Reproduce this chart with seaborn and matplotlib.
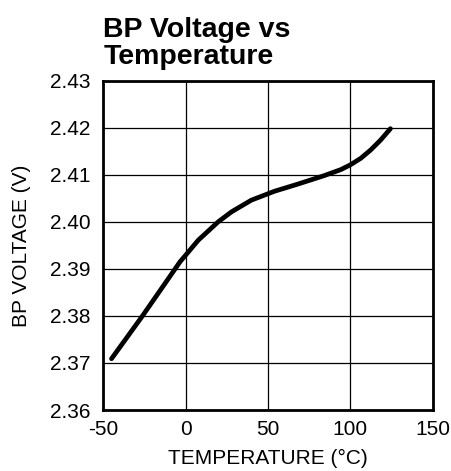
import numpy as np
import pandas as pd
import matplotlib
matplotlib.use('Agg')
import matplotlib.pyplot as plt
import seaborn as sns

# Curve
temperature = [-45, -26.6, -12.5, -3.4, 0, 7.7, 19.8, 27.8, 39.9, 54, 68, 84,
               94.3, 100, 106.4, 112.5, 118.5, 124.4]
bp_voltage = [2.3709, 2.3798, 2.3869, 2.3915, 2.3929, 2.3961, 2.4000, 2.4021,
              2.4046, 2.4065, 2.4080, 2.4098, 2.4111, 2.4121, 2.4135, 2.4153,
              2.4174, 2.4198]

x_ticks = [-50, 0, 50, 100, 150]
y_ticks = [2.36, 2.37, 2.38, 2.39, 2.40, 2.41, 2.42, 2.43]
y_tick_labels = ['2.36', '2.37', '2.38', '2.39', '2.40', '2.41', '2.42', '2.43']

df = pd.DataFrame({'temp': temperature, 'volt': bp_voltage})

sns.set_style('white')
plt.rcParams['font.family'] = ['Liberation Sans', 'DejaVu Sans']
plt.rcParams['axes.unicode_minus'] = False
plt.rcParams['text.color'] = 'black'
plt.rcParams['axes.labelcolor'] = 'black'

fig = plt.figure(figsize=(4.52, 4.71), dpi=100)
ax = fig.add_axes([0.2285, 0.1295, 0.7285, 0.6992])

sns.lineplot(data=df, x='temp', y='volt', color='black', linewidth=3.4, ax=ax)

ax.set_xlim(-50, 150)
ax.set_ylim(2.36, 2.43)
ax.set_xticks(x_ticks)
ax.set_yticks(y_ticks)
ax.set_yticklabels(y_tick_labels)
ax.tick_params(axis='y', length=0, labelsize=15, colors='black', pad=9)
ax.tick_params(axis='x', length=0, labelsize=15, colors='black', pad=7)
ax.grid(True, color='black', linewidth=0.9)

for s in ax.spines.values():
    s.set_color('black')
    s.set_linewidth(2)
    s.set_visible(True)

ax.set_xlabel('TEMPERATURE (°C)', fontsize=15, labelpad=7)
ax.set_ylabel('BP VOLTAGE (V)', fontsize=15, labelpad=14)
ax.set_title('BP Voltage vs\nTemperature', loc='left', fontsize=20.5,
             fontweight='bold', pad=12, linespacing=1.05, color='black')

fig.savefig('out.png', dpi=100)
